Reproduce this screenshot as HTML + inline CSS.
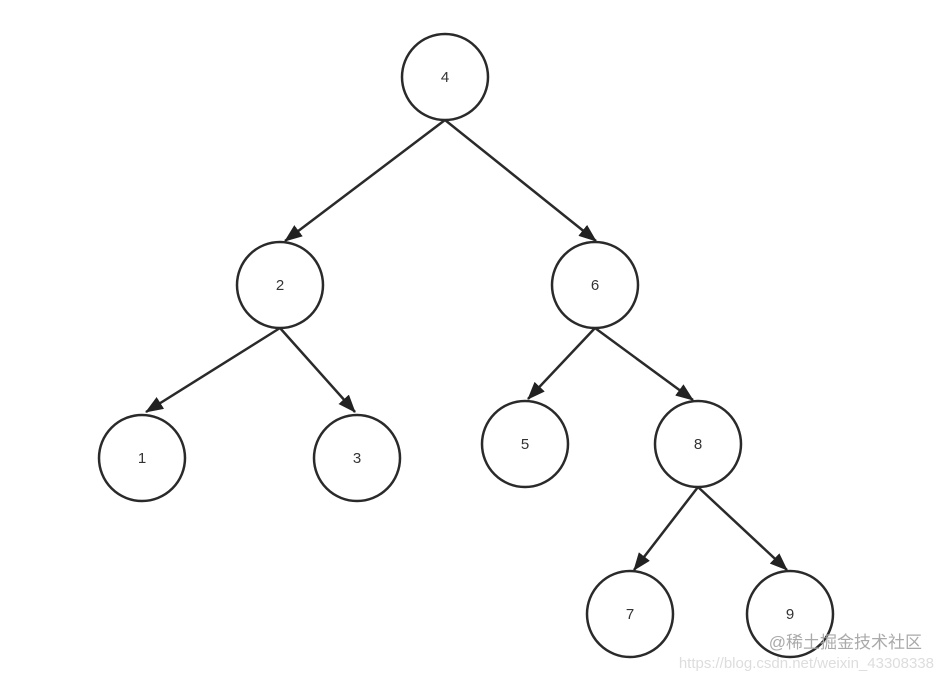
<!DOCTYPE html>
<html><head><style>
html,body{margin:0;padding:0;background:#fff;}
svg text{font-family:"Liberation Sans","Noto Sans CJK SC",sans-serif;}
</style></head><body>
<svg width="944" height="681" viewBox="0 0 944 681" xmlns="http://www.w3.org/2000/svg">
<defs><marker id="a" markerWidth="10" markerHeight="10" refX="9" refY="5" orient="auto" markerUnits="userSpaceOnUse" viewBox="0 0 10 10"><path d="M0,0 L10,5 L0,10 Z" fill="#222" transform="scale(1)"/></marker>
<marker id="b" markerWidth="18" markerHeight="14" refX="17" refY="7" orient="auto" markerUnits="userSpaceOnUse"><path d="M0,0 L18,7 L0,14 Z" fill="#222"/></marker></defs>
<g stroke="#2a2a2a" stroke-width="2.5" fill="none">
<line x1="445" y1="120" x2="285" y2="241" marker-end="url(#b)"/>
<line x1="445" y1="120" x2="596" y2="241" marker-end="url(#b)"/>
<line x1="280" y1="328" x2="146" y2="412" marker-end="url(#b)"/>
<line x1="280" y1="328" x2="355" y2="412" marker-end="url(#b)"/>
<line x1="595" y1="328" x2="528" y2="399" marker-end="url(#b)"/>
<line x1="595" y1="328" x2="693" y2="400" marker-end="url(#b)"/>
<line x1="698" y1="487" x2="634" y2="570" marker-end="url(#b)"/>
<line x1="698" y1="487" x2="787" y2="570" marker-end="url(#b)"/>
<circle cx="445" cy="77" r="43"/>
<circle cx="280" cy="285" r="43"/>
<circle cx="595" cy="285" r="43"/>
<circle cx="142" cy="458" r="43"/>
<circle cx="357" cy="458" r="43"/>
<circle cx="525" cy="444" r="43"/>
<circle cx="698" cy="444" r="43"/>
<circle cx="630" cy="614" r="43"/>
<circle cx="790" cy="614" r="43"/>
</g>
<g font-size="15" fill="#333" text-anchor="middle">
<text x="445" y="82">4</text>
<text x="280" y="290">2</text>
<text x="595" y="290">6</text>
<text x="142" y="463">1</text>
<text x="357" y="463">3</text>
<text x="525" y="449">5</text>
<text x="698" y="449">8</text>
<text x="630" y="619">7</text>
<text x="790" y="619">9</text>
</g>
<text x="922" y="648" font-size="17" fill="#aaa" text-anchor="end" font-family="'Liberation Sans','Noto Sans CJK SC',sans-serif">@稀土掘金技术社区</text>
<text x="934" y="668" font-size="15" fill="#ddd" text-anchor="end">https://blog.csdn.net/weixin_43308338</text>
</svg>
</body></html>
